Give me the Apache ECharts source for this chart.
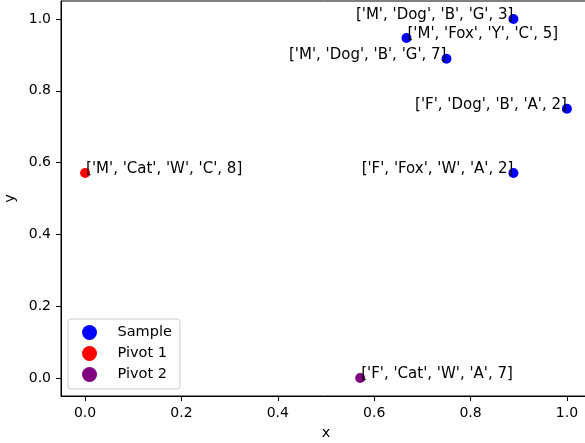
<!DOCTYPE html>
<html>
<head>
<meta charset="utf-8">
<script src="https://cdn.jsdelivr.net/npm/echarts@6/dist/echarts.min.js"></script>
<style>
  html, body { margin: 0; padding: 0; background: #fff; }
  #container { width: 585px; height: 443px; }
</style>
</head>
<body>
<div id="container"></div>
<script>
// sample points
var sampleX = [0.889, 0.667, 0.75, 1.0, 0.889];
var sampleY = [1.0, 0.947, 0.889, 0.75, 0.571];
var sampleLabels = [
	"['M', 'Dog', 'B', 'G', 3]",
	"['M', 'Fox', 'Y', 'C', 5]",
	"['M', 'Dog', 'B', 'G', 7]",
	"['F', 'Dog', 'B', 'A', 2]",
	"['F', 'Fox', 'W', 'A', 2]"
];
// pivots
var pivot1X = [0];
var pivot1Y = [0.571];
var pivot1Labels = ["['M', 'Cat', 'W', 'C', 8]"];
var pivot2X = [0.571];
var pivot2Y = [0];
var pivot2Labels = ["['F', 'Cat', 'W', 'A', 7]"];

var xTicks = [0, 0.2, 0.4, 0.6, 0.8, 1.0];
var yTicks = [0, 0.2, 0.4, 0.6, 0.8, 1.0];

var font = 'DejaVu Sans';

// labels that sit to the right of their point (the rest sit to the left)
var rightSide = { "['M', 'Fox', 'Y', 'C', 5]": true };

function toPoints(xs, ys, labels) {
	var arr = [];
	for (var i = 0; i < xs.length; i++) {
		var item = { value: [xs[i], ys[i]], name: labels[i] };
		if (rightSide[labels[i]]) {
			item.label = { align: 'left', position: [6, 1] };
		}
		arr.push(item);
	}
	return arr;
}

function makeSeries(name, color, data, align) {
	return {
		name: name,
		type: 'scatter',
		symbol: 'circle',
		symbolSize: 10,
		data: data,
		itemStyle: { color: color, opacity: 1 },
		emphasis: { disabled: true },
		label: {
			show: true,
			position: align == 'left' ? [6, 1] : [5, 1],
			align: align,
			verticalAlign: 'middle',
			formatter: function (p) { return p.name; },
			color: '#000',
			fontFamily: font,
			fontSize: 15
		}
	};
}

var myChart = echarts.init(document.getElementById('container'));

var axisCommon = {
	type: 'value',
	min: -0.05,
	max: 1.05,
	nameLocation: 'middle',
	nameTextStyle: { color: '#000', fontFamily: font, fontSize: 14.5 },
	axisLine: { show: true, onZero: false, lineStyle: { color: '#000', width: 1 } },
	axisTick: { show: true, inside: false, length: 5, lineStyle: { color: '#000' } },
	axisLabel: {
		color: '#000',
		fontFamily: font,
		fontSize: 14,
		margin: 10,
		formatter: function (v) { return v.toFixed(1); }
	},
	splitLine: { show: false }
};

var option = {
	animation: false,
	backgroundColor: '#fff',
	grid: {
		left: 61,
		top: 1,
		width: 530,
		height: 395,
		outerBoundsMode: 'none',
		containLabel: false,
		show: true,
		borderColor: '#000',
		borderWidth: 1
	},
	legend: {
		orient: 'vertical',
		left: 68,
		top: 319,
		icon: 'circle',
		itemWidth: 30,
		itemHeight: 15,
		itemGap: 6,
		padding: [6, 8, 7, 14],
		borderColor: '#cccccc',
		borderWidth: 1,
		borderRadius: 3,
		backgroundColor: 'rgba(255,255,255,0.8)',
		selectedMode: false,
		textStyle: { color: '#000', fontFamily: font, fontSize: 14.5, padding: [0, 0, 0, 8] },
		data: ['Sample', 'Pivot 1', 'Pivot 2']
	},
	xAxis: Object.assign({}, axisCommon, {
		name: 'x',
		nameGap: 30,
		axisTick: Object.assign({}, axisCommon.axisTick, { customValues: xTicks }),
		axisLabel: Object.assign({}, axisCommon.axisLabel, { customValues: xTicks })
	}),
	yAxis: Object.assign({}, axisCommon, {
		name: 'y',
		nameGap: 37,
		axisTick: Object.assign({}, axisCommon.axisTick, { customValues: yTicks }),
		axisLabel: Object.assign({}, axisCommon.axisLabel, { customValues: yTicks })
	}),
	series: [
		makeSeries('Sample', '#0000ff', toPoints(sampleX, sampleY, sampleLabels), 'right'),
		makeSeries('Pivot 1', '#ff0000', toPoints(pivot1X, pivot1Y, pivot1Labels), 'left'),
		makeSeries('Pivot 2', '#800080', toPoints(pivot2X, pivot2Y, pivot2Labels), 'left')
	]
};

myChart.setOption(option);
</script>
</body>
</html>
